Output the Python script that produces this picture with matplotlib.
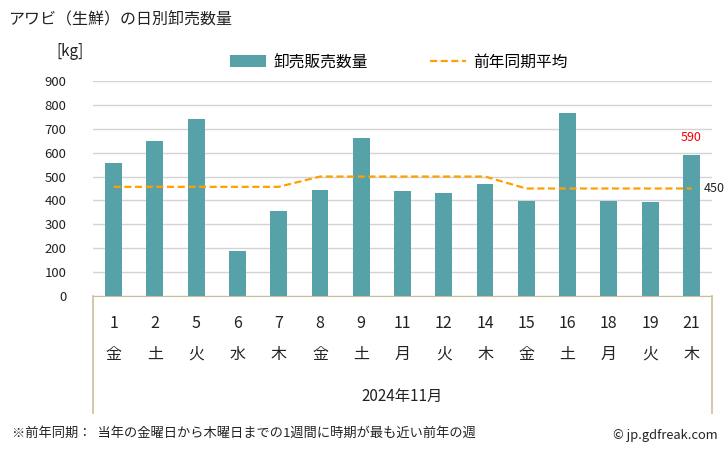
import matplotlib
matplotlib.use("Agg")
import matplotlib.pyplot as plt
from matplotlib.lines import Line2D
from matplotlib.patches import Patch

plt.rcParams['font.family'] = ['Noto Sans CJK JP', 'DejaVu Sans']

days = ["1", "2", "5", "6", "7", "8", "9", "11", "12", "14", "15", "16", "18", "19", "21"]
weekdays = ["金", "土", "火", "水", "木", "金", "土", "月", "火", "木", "金", "土", "月", "火", "木"]
volume = [556, 648, 741, 188, 356, 443, 661, 439, 431, 469, 397, 766, 397, 393, 590]
prev_avg = [457, 457, 457, 457, 457, 500, 500, 500, 500, 500, 450, 450, 450, 450, 450]
yticks = [0, 100, 200, 300, 400, 500, 600, 700, 800, 900]
month_label = "2024年11月"

bar_color = "#57a1a8"
line_color = "#ffa000"
box_color = "#c8bf98"

W, H = 728, 450
fig = plt.figure(figsize=(W / 100, H / 100), dpi=100)
L, R, T, B = 93, 712, 81, 296
ax = fig.add_axes([L / W, 1 - B / H, (R - L) / W, (B - T) / H])

x = list(range(len(days)))
ax.bar(x, volume, width=0.41, color=bar_color, zorder=2)
ax.plot(x, prev_avg, color=line_color, linestyle=(0, (3.2, 1.6)), linewidth=1.6, zorder=3)

ax.set_xlim(-0.5, len(days) - 0.5)
ax.set_ylim(0, 900)
ax.set_yticks(yticks)
ax.set_yticklabels([str(v) for v in yticks], fontsize=9.5, color="#222222")
ax.tick_params(axis='y', length=0, pad=19)
ax.set_xticks([])
ax.grid(axis='y', color="#d4d4d4", linewidth=1, zorder=0)
for s in ['top', 'right', 'left']:
    ax.spines[s].set_visible(False)
ax.spines['bottom'].set_color(box_color)

# last value annotations
ax.annotate(str(volume[-1]), (x[-1], volume[-1]), xytext=(0, 8), textcoords='offset points',
            ha='center', va='bottom', color='red', fontsize=9)
ax.annotate(str(prev_avg[-1]), (x[-1], prev_avg[-1]), xytext=(9, 0), textcoords='offset points',
            ha='left', va='center', color='#222222', fontsize=9)

# bottom box with category labels
trans = ax.get_xaxis_transform()
for xi, d, w in zip(x, days, weekdays):
    ax.text(xi, -(323 - B) / (B - T), d, transform=trans, ha='center', va='center', fontsize=11.5, color='#222222')
    ax.text(xi, -(354 - B) / (B - T), w, transform=trans, ha='center', va='center', fontsize=11.5, color='#222222')
fig.text((L + R) / 2 / W, 1 - 396 / H, month_label, ha='center', va='center', fontsize=11, color='#222222')
for xv in (L, R):
    fig.add_artist(Line2D([xv / W, xv / W], [1 - B / H, 1 - 413 / H], color=box_color, linewidth=1.2))

# title, unit, legend, footer
fig.text(8 / W, 1 - 19 / H, "アワビ（生鮮）の日別卸売数量", ha='left', va='center', fontsize=11.5, color='#222222')
fig.text(70 / W, 1 - 52 / H, "[kg]", ha='center', va='center', fontsize=11, color='#222222')
handles = [Patch(facecolor=bar_color, label="卸売販売数量"),
           Line2D([0], [0], color=line_color, linestyle=(0, (3.2, 1.6)), linewidth=1.6, label="前年同期平均")]
fig.legend(handles=handles, loc='center', bbox_to_anchor=(399 / W, 1 - 62 / H), ncol=2, frameon=False,
           fontsize=11.3, handlelength=2.3, handleheight=0.8, columnspacing=4.0, handletextpad=0.45)
fig.text(12 / W, 1 - 433 / H, "※前年同期：  当年の金曜日から木曜日までの1週間に時期が最も近い前年の週",
         ha='left', va='center', fontsize=9.5, color='#222222')
fig.text(718 / W, 1 - 435 / H, "© jp.gdfreak.com", ha='right', va='center', fontsize=9.3, color='#222222')

fig.savefig("out.png", dpi=100)
